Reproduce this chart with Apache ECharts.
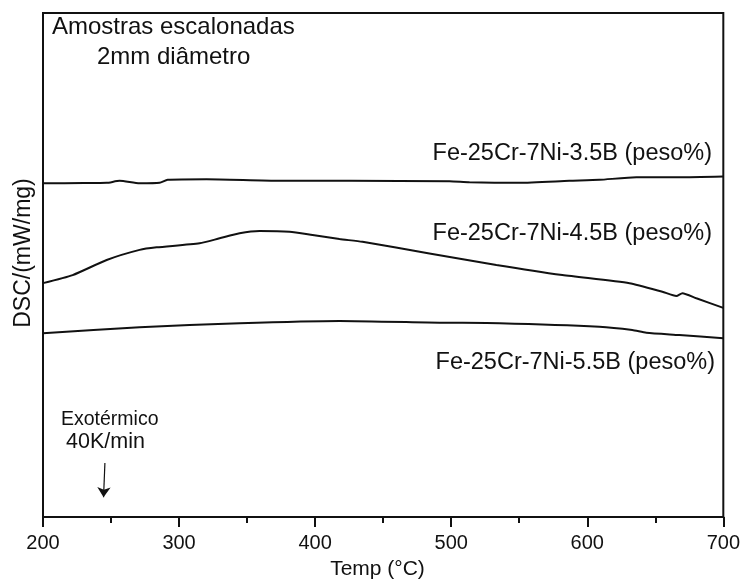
<!DOCTYPE html>
<html>
<head>
<meta charset="utf-8">
<script src="https://cdn.jsdelivr.net/npm/echarts@6/dist/echarts.min.js"></script>
<style>html,body{margin:0;padding:0;background:#fff;}#c{width:743px;height:581px;}</style>
</head>
<body>
<div id="c"></div>
<script>
// Temperature (°C) and DSC signal (arbitrary units)
var temp35 = [200, 230, 246.8, 256.3, 271, 285.7, 291.6, 320.2, 373.9, 425.3, 498.8, 513.4, 550, 586.8, 608.9, 636.1, 667.7, 700];
var dsc35  = [66.2, 66.25, 66.3, 66.7, 66.2, 66.3, 66.9, 67.0, 66.7, 66.7, 66.6, 66.4, 66.3, 66.7, 66.9, 67.4, 67.4, 67.55];

var temp45 = [200, 221.8, 246.8, 271, 283.5, 315.1, 329.8, 344.5, 359.2, 381.2, 398.1, 417.9, 434.8, 484, 533.2, 581.7, 631, 655.2, 665.5, 669.9, 680.2, 700];
var dsc45  = [46.4, 48.0, 51.0, 53.0, 53.5, 54.3, 55.3, 56.3, 56.75, 56.6, 55.95, 55.15, 54.6, 52.3, 50.0, 48.0, 46.4, 44.7, 43.85, 44.4, 43.4, 41.5];

var temp55 = [200, 271, 344.5, 418, 491.4, 535.5, 608.9, 633.1, 643.4, 667.7, 700];
var dsc55  = [36.45, 37.65, 38.45, 38.9, 38.55, 38.45, 37.75, 37.1, 36.55, 36.1, 35.45];

var xTicks = [200, 300, 400, 500, 600, 700];
var seriesNames = ['Fe-25Cr-7Ni-3.5B', 'Fe-25Cr-7Ni-4.5B', 'Fe-25Cr-7Ni-5.5B'];
var arrowTemp = [245.5, 244.5];
var arrowDsc = [10.7, 3.9];

function pairs(xs, ys) { return xs.map(function (x, i) { return [x, ys[i]]; }); }

var FONT = '"Liberation Sans", Arial, sans-serif';
var chart = echarts.init(document.getElementById('c'), null, { renderer: 'canvas' });

function lineSeries(name, xs, ys) {
  return {
    name: name, type: 'line', data: pairs(xs, ys), showSymbol: false, symbol: 'none',
    lineStyle: { color: '#111', width: 2 }, smooth: 0.2, animation: false, z: 3
  };
}

var series = [
  lineSeries(seriesNames[0], temp35, dsc35),
  lineSeries(seriesNames[1], temp45, dsc45),
  lineSeries(seriesNames[2], temp55, dsc55)
];
series[0].markLine = {
  silent: true, animation: false, symbol: ['none', 'arrow'], symbolSize: 10,
  lineStyle: { color: '#111', width: 1.2, type: 'solid' }, label: { show: false },
  data: [[{ coord: [arrowTemp[0], arrowDsc[0]] }, { coord: [arrowTemp[1], arrowDsc[1]] }]]
};

function curveLabel(text, right, cy) {
  return {
    type: 'text', right: 743 - right, top: cy - 12,
    style: { text: text + ' (peso%)', fontFamily: FONT, fontSize: 23.5, fill: '#111' }
  };
}

chart.setOption({
  backgroundColor: '#fff',
  animation: false,
  grid: { left: 43, right: 19, top: 13, bottom: 64, show: true, borderColor: '#111', borderWidth: 2, backgroundColor: 'transparent' },
  xAxis: {
    type: 'value', min: xTicks[0], max: xTicks[xTicks.length - 1], interval: 100,
    axisLine: { show: true, lineStyle: { color: '#111', width: 2 } },
    axisTick: { show: true, inside: false, length: 10, lineStyle: { color: '#111', width: 2 } },
    minorTick: { show: true, splitNumber: 2, length: 6, lineStyle: { color: '#111', width: 2 } },
    axisLabel: { fontFamily: FONT, fontSize: 20, color: '#111', margin: 16 },
    splitLine: { show: false }
  },
  yAxis: {
    type: 'value', min: 0, max: 100,
    axisLine: { show: true, onZero: false, lineStyle: { color: '#111', width: 2 } },
    axisTick: { show: false }, axisLabel: { show: false }, splitLine: { show: false }
  },
  series: series,
  graphic: [
    { type: 'text', left: 52, top: 15, style: { text: 'Amostras escalonadas', fontFamily: FONT, fontSize: 24, fill: '#111' } },
    { type: 'text', left: 97, top: 45, style: { text: '2mm diâmetro', fontFamily: FONT, fontSize: 24, fill: '#111' } },
    curveLabel(seriesNames[0], 712, 154),
    curveLabel(seriesNames[1], 712, 234),
    curveLabel(seriesNames[2], 715, 363),
    { type: 'text', left: 61, top: 410, style: { text: 'Exotérmico', fontFamily: FONT, fontSize: 19.5, fill: '#111' } },
    { type: 'text', left: 66, top: 431, style: { text: '40K/min', fontFamily: FONT, fontSize: 21.5, fill: '#111' } },
    { type: 'text', x: 24, y: 253, rotation: Math.PI / 2, style: { text: 'DSC/(mW/mg)', fontFamily: FONT, fontSize: 23, fill: '#111', align: 'center', verticalAlign: 'middle' } },
    { type: 'text', x: 377.5, y: 569, style: { text: 'Temp (°C)', fontFamily: FONT, fontSize: 21, fill: '#111', align: 'center', verticalAlign: 'middle' } }
  ]
});
</script>
</body>
</html>
